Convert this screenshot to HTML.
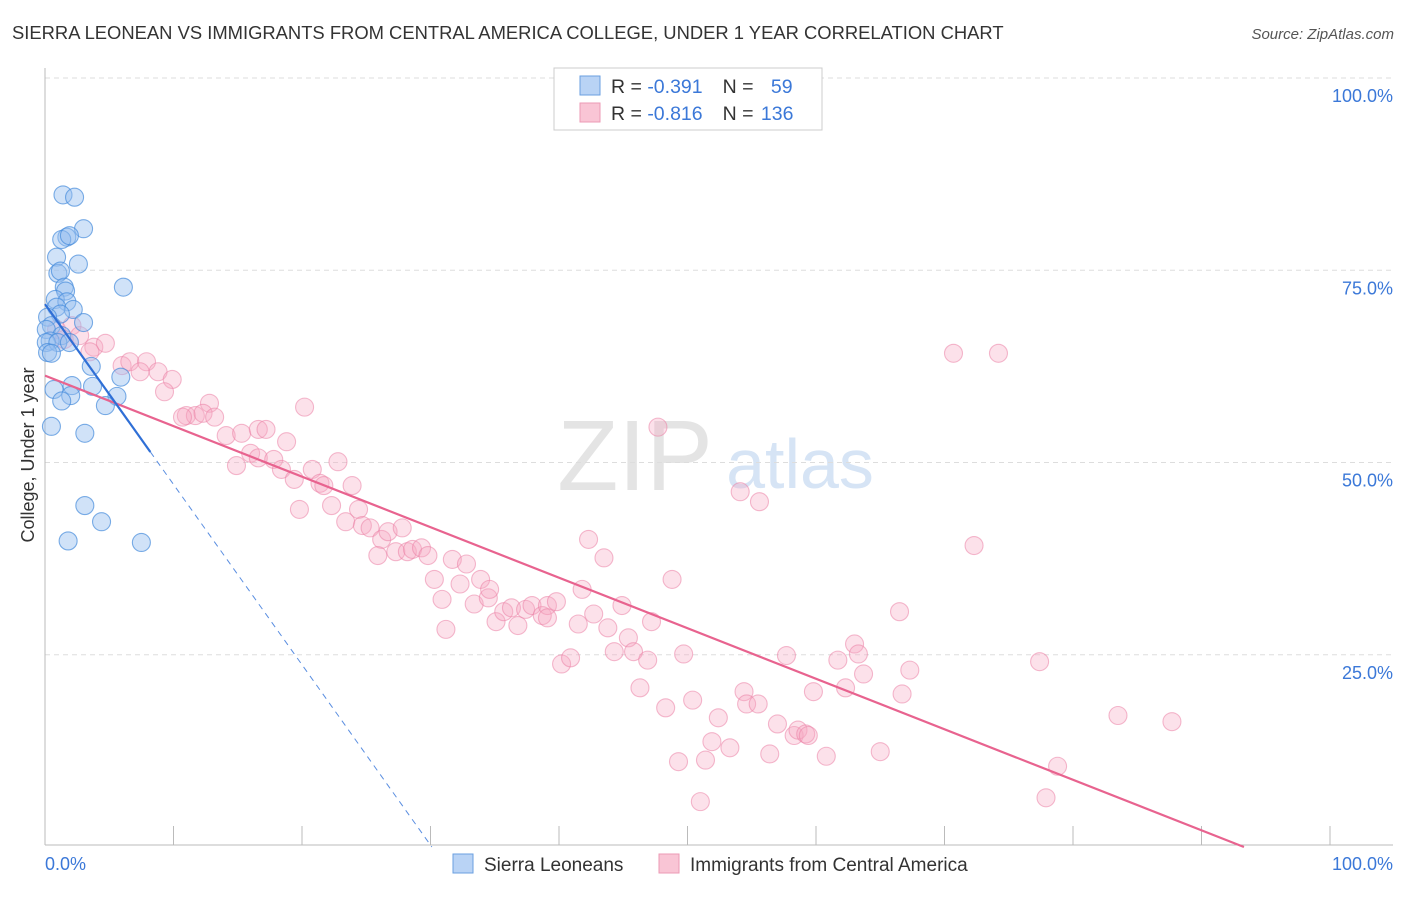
<!DOCTYPE html>
<html><head><meta charset="utf-8"><style>
body{margin:0;background:#fff;font-family:"Liberation Sans",sans-serif;}
svg text{font-family:"Liberation Sans",sans-serif;}
</style></head><body>
<svg id="chart" width="1406" height="892">
<text x="12" y="39" font-size="18.4" fill="#333">SIERRA LEONEAN VS IMMIGRANTS FROM CENTRAL AMERICA COLLEGE, UNDER 1 YEAR CORRELATION CHART</text>
<text x="1394" y="39" font-size="15" fill="#555" font-style="italic" text-anchor="end">Source: ZipAtlas.com</text>
<g>
<text x="635" y="490" font-size="100" fill="#e4e4e4" font-family="Liberation Serif" text-anchor="middle">ZIP</text>
<text x="800" y="488" font-size="70" fill="#d6e4f5" text-anchor="middle">atlas</text>
</g>
<g id="grid"></g>
<g id="axes"></g>
<g id="marks"></g>
<g>
<rect x="554" y="68" width="268" height="62" fill="#fff" stroke="#ccc"/>
<rect x="580" y="76" width="20" height="19" fill="#b9d3f5" stroke="#6a9fe0"/>
<rect x="580" y="103" width="20" height="19" fill="#f9c5d5" stroke="#ec9ab5"/>
<text x="611" y="93" font-size="19.5" fill="#333">R = <tspan fill="#3b78d8">-0.391</tspan><tspan dx="20">N = </tspan><tspan dx="12" fill="#3b78d8">59</tspan></text>
<text x="611" y="120" font-size="19.5" fill="#333">R = <tspan fill="#3b78d8">-0.816</tspan><tspan dx="20">N = </tspan><tspan dx="2" fill="#3b78d8">136</tspan></text>
</g>
<g>
<rect x="453" y="854" width="20" height="19" fill="#b9d3f5" stroke="#6a9fe0"/>
<text x="484" y="871" font-size="19" fill="#333">Sierra Leoneans</text>
<rect x="659" y="854" width="20" height="19" fill="#f9c5d5" stroke="#ec9ab5"/>
<text x="690" y="871" font-size="19" fill="#333">Immigrants from Central America</text>
</g>
<text transform="translate(34,455) rotate(-90)" font-size="18" fill="#333" text-anchor="middle">College, Under 1 year</text>
</svg>
<script>
const blueX=[1.4,2.3,3.0,1.7,1.3,1.9,2.6,0.9,1.0,1.2,6.1,1.5,1.6,0.8,1.7,0.9,2.2,1.2,3.0,0.2,0.5,0.1,1.3,0.4,0.1,1.0,1.9,0.2,0.5,3.6,5.9,2.1,3.7,0.7,5.6,2.0,1.3,4.7,0.5,3.1,3.1,4.4,1.8,7.5];
const blueY=[84.8,84.5,80.4,79.3,79.0,79.5,75.8,76.7,74.6,74.9,72.8,72.8,72.3,71.2,70.9,70.2,69.9,69.3,68.2,68.9,67.8,67.3,66.5,65.8,65.6,65.6,65.6,64.3,64.2,62.5,61.1,60.0,59.9,59.5,58.6,58.7,58.0,57.4,54.7,53.8,44.4,42.3,39.8,39.6];
const pinkX=[0.9,2.1,1.5,2.7,3.8,4.7,3.5,6.0,6.6,7.9,8.8,7.4,9.9,9.3,12.8,11.0,11.7,12.3,13.2,10.7,14.1,15.3,16.6,17.2,18.8,14.9,16.0,16.6,17.8,18.4,19.4,20.2,20.8,21.4,21.7,22.8,23.9,22.3,19.8,23.4,24.4,24.7,25.3,26.2,26.7,27.8,25.9,27.3,28.2,28.6,29.3,29.8,30.3,30.9,31.7,32.3,32.8,33.4,33.9,34.5,34.6,35.1,35.7,36.3,36.8,37.4,37.9,38.7,39.1,39.8,39.1,31.2,40.2,40.9,41.5,41.8,42.3,42.7,43.5,43.8,44.3,44.9,45.4,45.8,46.3,46.9,47.2,47.7,48.3,48.8,49.3,49.7,50.4,51.0,51.4,51.9,52.4,53.3,54.1,54.4,54.6,55.5,55.6,56.4,57.0,57.7,58.3,58.6,59.2,59.4,59.8,60.8,61.7,62.3,63.0,63.3,63.7,65.0,66.5,66.7,67.3,70.7,72.3,74.2,77.4,77.9,78.8,83.5,87.7];
const pinkY=[67.3,67.8,66.0,66.5,65.0,65.5,64.4,62.6,63.1,63.1,61.8,61.8,60.8,59.2,57.7,56.1,56.1,56.4,55.9,55.9,53.5,53.8,54.3,54.3,52.7,49.6,51.2,50.6,50.4,49.1,47.8,57.2,49.1,47.3,47.0,50.1,47.0,44.4,43.9,42.3,43.9,41.8,41.5,40.0,41.0,41.5,37.9,38.4,38.4,38.7,38.9,37.9,34.8,32.2,37.4,34.2,36.8,31.6,34.8,32.4,33.5,29.3,30.6,31.1,28.8,30.9,31.4,30.1,31.4,31.9,29.8,28.3,23.8,24.6,29.0,33.5,40.0,30.3,37.6,28.5,25.4,31.4,27.2,25.4,20.7,24.3,29.3,54.6,18.1,34.8,11.1,25.1,19.1,5.9,11.3,13.7,16.8,12.9,46.2,20.2,18.6,18.6,44.9,12.1,16.0,24.9,14.5,15.2,14.7,14.5,20.2,11.8,24.3,20.7,26.4,25.1,22.5,12.4,30.6,19.9,23.0,64.2,39.2,64.2,24.1,6.4,10.5,17.1,16.3];
const blueFit=[70.6,-2.345];
const pinkFit=[61.3,-0.657];
const yTicks=[25,50,75,100];
const yTickLabels=["25.0%","50.0%","75.0%","100.0%"];
const xTicks=[0,10,20,30,40,50,60,70,80,90,100];
const NS='http://www.w3.org/2000/svg';
const X=v=>45+v*12.85, Y=v=>847-v*7.69;
function mk(tag,attrs,parent){const e=document.createElementNS(NS,tag);for(const k in attrs)e.setAttribute(k,attrs[k]);document.getElementById(parent).appendChild(e);return e;}
yTicks.forEach((t,i)=>{
 const g=mk('line',{x1:45,x2:1393,y1:Y(t),y2:Y(t),stroke:'#ddd','stroke-dasharray':'5,4'},'grid');
 
 
 const l=mk('text',{x:1393,y:Y(t)+24,'font-size':18,fill:'#3b78d8','text-anchor':'end'},'axes');
 l.textContent=yTickLabels[i];
 
 
});
const ax=mk('line',{x1:45,x2:1393,y1:845,y2:845,stroke:'#bbb'},'axes');


const ay=mk('line',{x1:45,x2:45,y1:68,y2:845,stroke:'#bbb'},'axes');


xTicks.forEach(t=>{const l=mk('line',{x1:X(t),x2:X(t),y1:826,y2:845,stroke:'#bbb'},'axes');
 
 });
const x0=mk('text',{x:45,y:870,'font-size':18,fill:'#3b78d8'},'axes');x0.textContent='0.0%';


const x1=mk('text',{x:1393,y:870,'font-size':18,fill:'#3b78d8','text-anchor':'end'},'axes');x1.textContent='100.0%';


pinkX.forEach((v,i)=>{const c=mk('circle',{cx:X(v),cy:Y(pinkY[i]),r:9,fill:'rgba(246,170,195,0.35)',stroke:'rgba(235,130,165,0.55)','stroke-width':1.1},'marks');
 
 });
blueX.forEach((v,i)=>{const c=mk('circle',{cx:X(v),cy:Y(blueY[i]),r:9,fill:'rgba(150,190,240,0.45)',stroke:'rgba(70,140,220,0.7)','stroke-width':1.1},'marks');
 
 });
const pEnd=-pinkFit[0]/pinkFit[1];
const pl=mk('line',{x1:X(0),y1:Y(pinkFit[0]),x2:X(pEnd),y2:Y(0),stroke:'#e8638f','stroke-width':2.2},'marks');


const bEnd=-blueFit[0]/blueFit[1], bSolid=8.2;
const bl=mk('line',{x1:X(0),y1:Y(blueFit[0]),x2:X(bSolid),y2:Y(blueFit[0]+blueFit[1]*bSolid),stroke:'#2f6fd6','stroke-width':2.2},'marks');


const bd=mk('line',{x1:X(bSolid),y1:Y(blueFit[0]+blueFit[1]*bSolid),x2:X(bEnd),y2:Y(0),stroke:'#5a8ee0','stroke-width':1,'stroke-dasharray':'6,5'},'marks');


</script>
</body></html>
